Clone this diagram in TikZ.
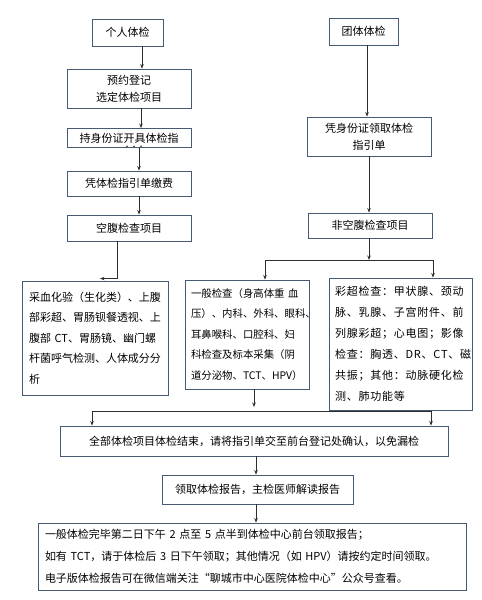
\documentclass[tikz,border=0pt]{standalone}
\usepackage{fontspec}
\setmainfont{Noto Sans CJK SC}
\newfontfamily\widecjk[LetterSpace=7]{Noto Sans CJK SC}
\usetikzlibrary{arrows.meta}
\definecolor{boxline}{RGB}{70,90,115}
\definecolor{conn}{RGB}{45,45,45}
\begin{document}
\begin{tikzpicture}[x=1pt,y=-1pt,
  box/.style={draw=boxline,line width=0.9pt,rectangle,inner sep=0pt,align=center,
    font=\fontsize{11}{17}\selectfont},
  para/.style={draw=boxline,line width=0.9pt,rectangle,inner ysep=0pt,align=left,
    font=\fontsize{11}{20.5}\selectfont},
  arr/.style={draw=conn,line width=0.8pt,-{Stealth[length=4.5pt,width=3.5pt]}},
  ln/.style={draw=conn,line width=0.8pt}]
\path[use as bounding box] (0,0) rectangle (482,600);
\fill[white] (0,0) rectangle (482,600);

% left column
\node[box,minimum width=71pt,minimum height=27pt] (p1) at (127.5,32.5) {个人体检};
\node[box,minimum width=124pt,minimum height=39pt] (p2) at (129,88.5) {预约登记\\选定体检项目};
\node[box,minimum width=124pt,minimum height=19pt] (p3) at (129,138) {持身份证开具体检指};
\node[font=\fontsize{7}{7}\selectfont,inner sep=0pt] (p3d) at (134,148) {···};
\node[box,minimum width=124pt,minimum height=25pt] (p4) at (129,183.5) {凭体检指引单缴费};
\node[box,minimum width=124pt,minimum height=26pt] (p5) at (129,228) {空腹检查项目};

% right column
\node[box,minimum width=69pt,minimum height=27pt] (g1) at (363.5,31.5) {团体体检};
\node[box,minimum width=124pt,minimum height=39pt] (g2) at (369,136.5) {凭身份证领取体检\\指引单};
\node[box,minimum width=124pt,minimum height=25pt] (g3) at (370,225.5) {非空腹检查项目};

% detail boxes
\node[para,inner xsep=7pt,text width=132pt,minimum height=114pt] (b1) at (95,338)
  {采血化验（生化类）、上腹\\部彩超、胃肠钡餐透视、上\\腹部 CT、胃肠镜、幽门螺\\杆菌呼气检测、人体成分分\\析};
\node[para,inner xsep=6pt,text width=112pt,minimum height=109pt,font=\fontsize{10.4}{20.5}\selectfont] (b2) at (247,334.5)
  {一般检查（身高体重 血\\压）、内科、外科、眼科、\\耳鼻喉科、口腔科、妇\\科检查及标本采集（阴\\道分泌物、TCT、HPV）};
\node[para,inner xsep=6pt,text width=131pt,minimum height=132pt,font=\widecjk\fontsize{11}{21}\selectfont] (b3) at (400.5,344)
  {彩超检查：甲状腺、颈动\\脉、乳腺、子宫附件、前\\列腺彩超；心电图；影像\\检查：胸透、DR、CT、磁\\共振；其他：动脉硬化检\\测、肺功能等};

% bottom
\node[box,minimum width=388pt,minimum height=30pt] (a1) at (254,441) {全部体检项目体检结束，请将指引单交至前台登记处确认，以免漏检};
\node[box,minimum width=191pt,minimum height=29pt] (a2) at (257.5,489.5) {领取体检报告，主检医师解读报告};
\node[draw=boxline,line width=0.9pt,rectangle,align=left,text width=414pt,inner xsep=7pt,inner ysep=0pt,
  minimum height=67pt,font=\fontsize{11}{22}\selectfont] (a3) at (252,556.5)
  {一般体检完毕第二日下午 2 点至 5 点半到体检中心前台领取报告；\\如有 TCT，请于体检后 3 日下午领取；其他情况（如 HPV）请按约定时间领取。\\电子版体检报告可在微信端关注“聊城市中心医院体检中心”公众号查看。};

% column coordinates
\coordinate (x142) at (142,0);
\coordinate (x141) at (141,0);
\coordinate (x139) at (139,0);
\coordinate (x117) at (117,0);
\coordinate (x100) at (100,0);
\coordinate (x367) at (367,0);
\coordinate (x369) at (369,0);
\coordinate (x265) at (265,0);
\coordinate (x433) at (433,0);
\coordinate (x254) at (254,0);
\coordinate (x92) at (92,0);
\coordinate (x431) at (431,0);
\coordinate (x256) at (256,0);
\coordinate (y260) at (0,260);
\coordinate (y411) at (0,411);
\coordinate (y407) at (0,407);

% connectors left
\draw[arr] (p1.south -| x142) -- (p2.north -| x142);
\draw[arr] (p2.south -| x141) -- (p3.north -| x141);
\draw[arr] (p3.south -| x139) -- (p4.north -| x139);
\draw[arr] (p4.south -| x139) -- (p5.north -| x139);
\draw[arr] (p5.south -| x117) |- ([yshift=2pt]b1.north -| x100);

% connectors right
\draw[arr] (g1.south -| x367) -- (g2.north -| x367);
\draw[arr] (g2.south -| x369) -- (g3.north -| x369);
\draw[arr] (g3.south -| x369) -- (y260 -| x369);
\draw[ln] (y260 -| x265) -- (y260 -| x433);
\draw[arr] (y260 -| x265) -- (b2.north -| x265);
\draw[arr] (y260 -| x433) -- (b3.north -| x433);

% merge
\draw[arr] (b2.south -| x254) -- (y407 -| x254);
\draw[ln] (y411 -| x92) -- (y411 -| x431);
\draw[arr] (y411 -| x92) -- (a1.north -| x92);
\draw[arr] (y411 -| x431) -- (a1.north -| x431);
\draw[arr] (a1.south -| x256) -- (a2.north -| x256);
\draw[arr] (a2.south -| x256) -- (a3.north -| x256);
\end{tikzpicture}
\end{document}
